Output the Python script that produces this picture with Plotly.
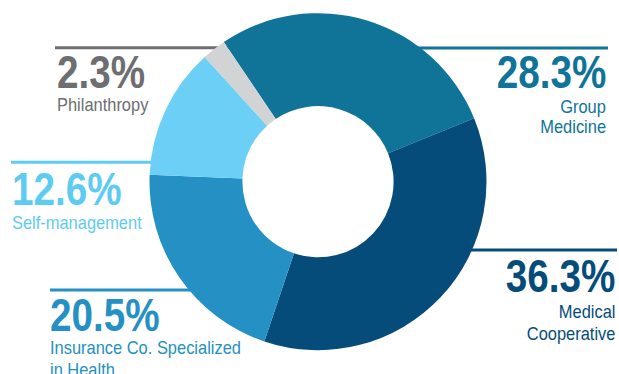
import plotly.graph_objects as go

# Share of each provider type (percent), listed clockwise from the top
categories = ["Group Medicine", "Medical Cooperative", "Insurance Co. Specialized in Health",
              "Self-management", "Philanthropy"]
shares = [28.3, 36.3, 20.5, 12.6, 2.3]
slice_colors = ["#0f7498", "#054c7b", "#2490c3", "#6bcff6", "#d1d3d4"]
text_colors = ["#0f7498", "#054c7b", "#2490c3", "#5ecbf3", "#6d6e71"]
label_lines = [["Group", "Medicine"], ["Medical", "Cooperative"],
               ["Insurance Co. Specialized", "in Health"], ["Self-management"], ["Philanthropy"]]

W, H = 619, 374
CX, CY, R_OUT, R_IN = 318, 181.7, 168.5, 75.6


def px(x):
    return x / W


def py(y):
    return 1 - y / H


fig = go.Figure(go.Pie(
    labels=categories,
    values=shares,
    sort=False,
    direction="clockwise",
    rotation=-34,
    hole=R_IN / R_OUT,
    marker=dict(colors=slice_colors, line=dict(width=0)),
    textinfo="none",
    hoverinfo="label+percent",
    showlegend=False,
    domain=dict(x=[px(CX - R_OUT), px(CX + R_OUT)],
                y=[py(CY + R_OUT), py(CY - R_OUT)]),
))

# Callout placement per slice: side, anchor x, rule y, rule span, value y, label line ys
callouts = [
    dict(anchor="right", x=606, rule_y=48, rule=(380, 608), val_y=71.5, lab_y=[106, 126.5]),
    dict(anchor="right", x=615, rule_y=250, rule=(430, 617), val_y=276, lab_y=[311, 333.5]),
    dict(anchor="left", x=50, rule_y=290, rule=(50, 240), val_y=314.5, lab_y=[347.4, 369.5]),
    dict(anchor="left", x=12, rule_y=162.3, rule=(11, 200), val_y=189, lab_y=[222]),
    dict(anchor="left", x=57, rule_y=47.7, rule=(55, 300), val_y=71.5, lab_y=[104.3]),
]

FONT = "Liberation Sans, Arial, sans-serif"

shapes = []
annotations = []
for share, color, lines, c in zip(shares, text_colors, label_lines, callouts):
    shapes.append(dict(type="line", xref="paper", yref="paper", layer="below",
                       x0=px(c["rule"][0]), x1=px(c["rule"][1]),
                       y0=py(c["rule_y"]), y1=py(c["rule_y"]),
                       line=dict(color=color, width=3)))
    annotations.append(dict(
        text=f"<b>{share:.1f}%</b>", xref="paper", yref="paper",
        x=px(c["x"]), y=py(c["val_y"]), xanchor=c["anchor"], yanchor="middle",
        align=c["anchor"], showarrow=False, borderpad=0, borderwidth=0,
        font=dict(family=FONT, size=46, color=color)))
    for line_text, ly in zip(lines, c["lab_y"]):
        annotations.append(dict(
            text=line_text, xref="paper", yref="paper",
            x=px(c["x"]), y=py(ly), xanchor=c["anchor"], yanchor="middle",
            align=c["anchor"], showarrow=False, borderpad=0, borderwidth=0,
            font=dict(family=FONT, size=19, color=color)))

fig.update_layout(
    width=W, height=H,
    margin=dict(l=0, r=0, t=0, b=0),
    paper_bgcolor="white",
    plot_bgcolor="white",
    shapes=shapes,
    annotations=annotations,
)

# Condensed lettering: squeeze each annotation's glyphs horizontally,
# keeping its anchored edge in place.
condense_js = """
var gd = document.getElementById('{plot_id}');
gd.querySelectorAll('.annotation-text').forEach(function (t) {
  var fs = parseFloat(t.style.fontSize || window.getComputedStyle(t).fontSize);
  var k = fs > 30 ? 0.84 : 0.865;
  var w = t.getComputedTextLength();
  t.setAttribute('textLength', (w * k).toFixed(2));
  t.setAttribute('lengthAdjust', 'spacingAndGlyphs');
});
"""

fig.write_html("out.html", post_script=condense_js)
